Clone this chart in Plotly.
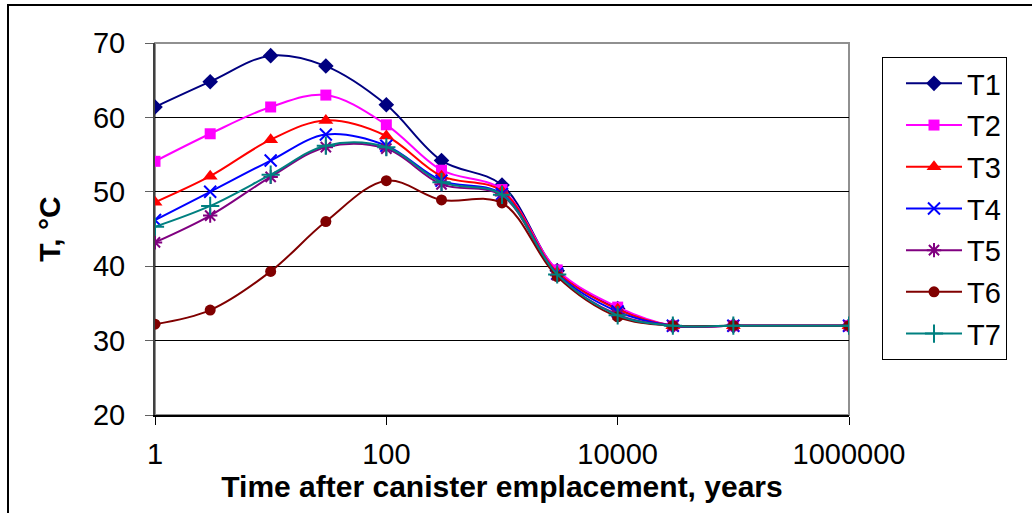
import plotly.graph_objects as go

years = [1, 3, 10, 30, 100, 300, 1000, 3000, 10000, 30000, 100000, 1000000]
T1 = [61.4, 64.8, 68.3, 66.9, 61.7, 54.2, 50.9, 39.4, 34.3, 32.0, 32.0, 32.0]
T2 = [54.1, 57.8, 61.4, 63.0, 59.0, 52.9, 50.3, 39.5, 34.5, 32.0, 32.0, 32.0]
T3 = [48.6, 52.1, 57.0, 59.6, 57.5, 52.1, 50.1, 39.2, 34.2, 32.0, 32.0, 32.0]
T4 = [46.2, 50.0, 54.2, 57.7, 56.2, 51.5, 49.7, 39.0, 33.9, 32.0, 32.0, 32.0]
T5 = [43.2, 46.8, 52.0, 56.0, 55.8, 51.0, 49.5, 38.8, 33.5, 32.0, 32.0, 32.0]
T6 = [32.2, 34.1, 39.3, 46.0, 51.5, 48.9, 48.5, 38.6, 33.2, 32.0, 32.0, 32.0]
T7 = [45.3, 48.1, 52.3, 56.2, 56.0, 51.3, 49.6, 38.9, 33.4, 32.0, 32.0, 32.0]

names = ["T1", "T2", "T3", "T4", "T5", "T6", "T7"]
series = [T1, T2, T3, T4, T5, T6, T7]
colors = ["#000080", "#FF00FF", "#FF0000", "#0000FF", "#800080", "#800000", "#008080"]
symbols = ["diamond", "square", "triangle-up", "x-thin-open", "asterisk-open", "circle", "cross-thin-open"]
sizes = [12, 11, 13, 12, 12, 11, 13]

x_tickvals = [1, 100, 10000, 1000000]
x_ticktext = ["1", "100", "10000", "1000000"]
y_tickvals = [20, 30, 40, 50, 60, 70]

W, H = 1032, 513
L, R, T, B = 155, 849, 43, 415
FONT = "Arial, Liberation Sans, sans-serif"

fig = go.Figure()
for n, s, c, sym, sz in zip(names, series, colors, symbols, sizes):
    open_sym = sym.endswith("-open")
    fig.add_trace(go.Scatter(
        x=years, y=s, name=n, mode="lines+markers", legendgroup=n,
        line=dict(color=c, width=2, shape="spline", smoothing=1.0),
        marker=dict(symbol=sym, size=sz, color=c,
                    line=dict(color=c, width=2 if open_sym else 0)),
    ))

pw, ph = R - L, B - T
def px(xp):
    return (xp - L) / pw
def py(yp):
    return (B - yp) / ph

fig.update_layout(
    width=W, height=H,
    margin=dict(l=L, r=W - R, t=T, b=H - B, pad=0),
    paper_bgcolor="white", plot_bgcolor="white",
    font=dict(family=FONT, color="black", size=29),
    showlegend=True,
    legend=dict(
        x=px(882), y=py(57), xanchor="left", yanchor="top",
        bordercolor="black", borderwidth=1, bgcolor="white",
        font=dict(size=29, family=FONT), tracegroupgap=1,
        itemwidth=56, indentation=18,
    ),
    xaxis=dict(
        type="log", range=[0, 6], tickvals=x_tickvals, ticktext=x_ticktext,
        showgrid=False, zeroline=False, showline=True, linecolor="black", linewidth=2,
        ticks="outside", ticklen=8, tickcolor="black", tickwidth=1,
        ticklabelstandoff=4,
        tickfont=dict(size=29, family=FONT),
        title=dict(text="<b>Time after canister emplacement, years</b>",
                   font=dict(size=30, family=FONT), standoff=4),
    ),
    yaxis=dict(
        range=[20, 70], tickvals=y_tickvals,
        showgrid=True, gridcolor="black", gridwidth=1, zeroline=False,
        showline=True, linecolor="#404040", linewidth=2,
        ticks="outside", ticklen=8, tickcolor="#606060", tickwidth=1,
        ticklabelstandoff=14,
        tickfont=dict(size=29, family=FONT),
        title=dict(text="<b>T, °C</b>", font=dict(size=30, family=FONT), standoff=23),
    ),
    shapes=[
        dict(type="rect", xref="paper", yref="paper", x0=0, x1=1, y0=0, y1=1,
             line=dict(color="#909090", width=2), layer="between"),
        dict(type="rect", xref="paper", yref="paper",
             x0=px(8), x1=px(W + 20), y0=py(H + 20), y1=py(5),
             line=dict(color="black", width=2), layer="below"),
    ],
)

fig.write_html("out.html")
